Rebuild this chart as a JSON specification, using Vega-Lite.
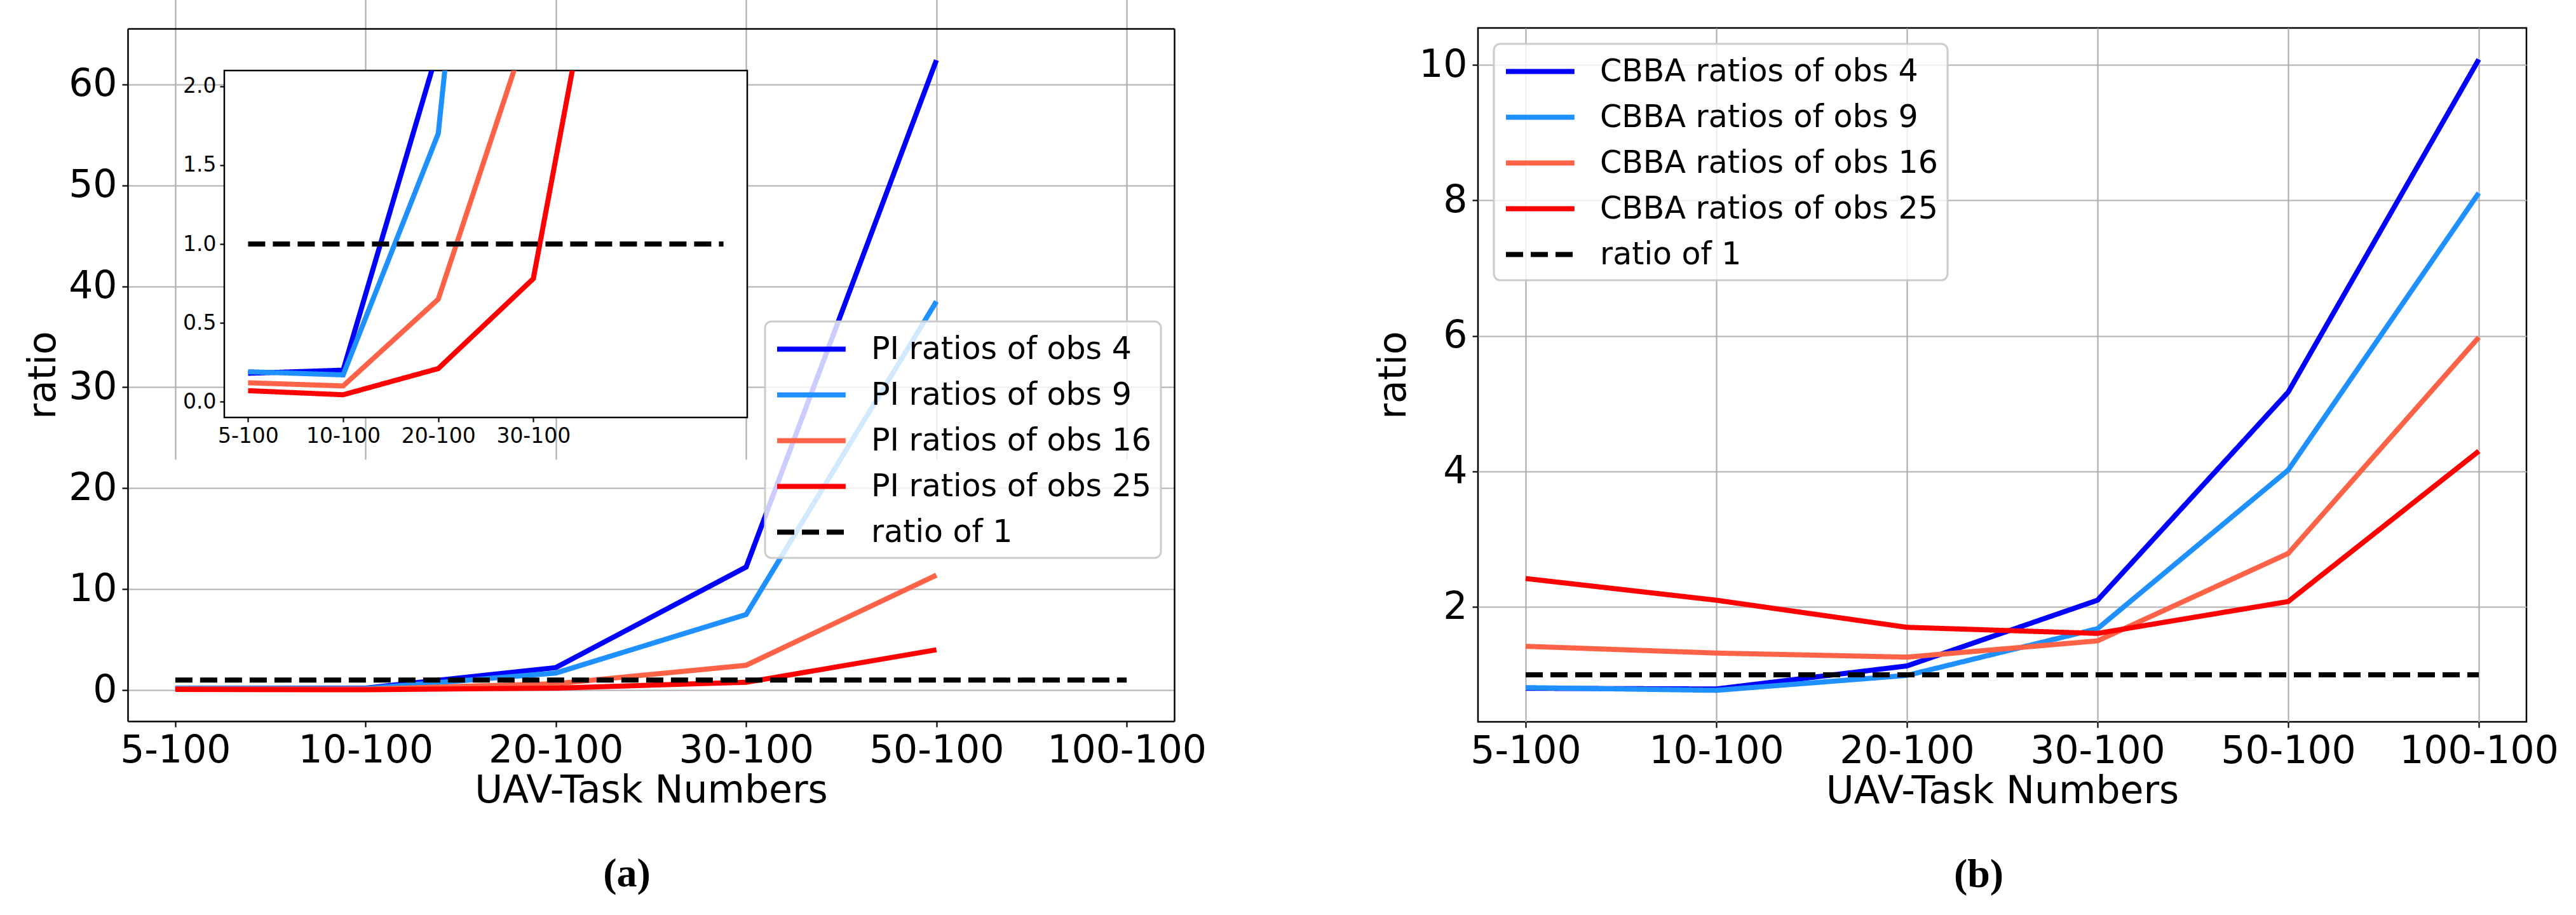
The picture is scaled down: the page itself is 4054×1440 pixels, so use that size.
{
  "$schema": "https://vega.github.io/schema/vega-lite/v6.json",
  "background": "white",
  "padding": {"left": 38, "top": 42, "right": 20, "bottom": 10},
  "config": {
    "font": "DejaVu Sans",
    "view": {"stroke": "black", "strokeWidth": 2.5},
    "axis": {
      "grid": true, "gridColor": "#b0b0b0", "gridWidth": 2.2, "domain": false,
      "domainColor": "black", "domainWidth": 2.5,
      "ticks": true, "tickColor": "black", "tickWidth": 2.2, "tickSize": 9,
      "labelFont": "DejaVu Sans", "labelFontSize": 60, "labelColor": "black", "labelPadding": 8, "labelLimit": 1000,
      "titleFont": "DejaVu Sans", "titleFontSize": 60, "titleFontWeight": "normal", "titleColor": "black", "titlePadding": 8,
      "labelOverlap": false
    },
    "legend": {"labelFont": "DejaVu Sans", "labelColor": "black"},
    "title": {"font": "Liberation Serif", "fontSize": 64, "fontWeight": "bold", "color": "black"}
  },
  "datasets": {
    "pi": [
      {"task": "5-100", "series": "PI ratios of obs 4", "ratio": 0.18},
      {"task": "10-100", "series": "PI ratios of obs 4", "ratio": 0.2},
      {"task": "20-100", "series": "PI ratios of obs 4", "ratio": 2.24},
      {"task": "30-100", "series": "PI ratios of obs 4", "ratio": 12.2},
      {"task": "50-100", "series": "PI ratios of obs 4", "ratio": 62.4},
      {"task": "5-100", "series": "PI ratios of obs 9", "ratio": 0.19},
      {"task": "10-100", "series": "PI ratios of obs 9", "ratio": 0.17},
      {"task": "20-100", "series": "PI ratios of obs 9", "ratio": 1.7},
      {"task": "30-100", "series": "PI ratios of obs 9", "ratio": 7.5},
      {"task": "50-100", "series": "PI ratios of obs 9", "ratio": 38.5},
      {"task": "5-100", "series": "PI ratios of obs 16", "ratio": 0.12},
      {"task": "10-100", "series": "PI ratios of obs 16", "ratio": 0.1},
      {"task": "20-100", "series": "PI ratios of obs 16", "ratio": 0.65},
      {"task": "30-100", "series": "PI ratios of obs 16", "ratio": 2.47},
      {"task": "50-100", "series": "PI ratios of obs 16", "ratio": 11.4},
      {"task": "5-100", "series": "PI ratios of obs 25", "ratio": 0.07},
      {"task": "10-100", "series": "PI ratios of obs 25", "ratio": 0.044},
      {"task": "20-100", "series": "PI ratios of obs 25", "ratio": 0.21},
      {"task": "30-100", "series": "PI ratios of obs 25", "ratio": 0.78},
      {"task": "50-100", "series": "PI ratios of obs 25", "ratio": 4.0},
      {"task": "5-100", "series": "ratio of 1", "ratio": 1},
      {"task": "10-100", "series": "ratio of 1", "ratio": 1},
      {"task": "20-100", "series": "ratio of 1", "ratio": 1},
      {"task": "30-100", "series": "ratio of 1", "ratio": 1},
      {"task": "50-100", "series": "ratio of 1", "ratio": 1},
      {"task": "100-100", "series": "ratio of 1", "ratio": 1}
    ],
    "cbba": [
      {"task": "5-100", "series": "CBBA ratios of obs 4", "ratio": 0.8},
      {"task": "10-100", "series": "CBBA ratios of obs 4", "ratio": 0.79},
      {"task": "20-100", "series": "CBBA ratios of obs 4", "ratio": 1.13},
      {"task": "30-100", "series": "CBBA ratios of obs 4", "ratio": 2.1},
      {"task": "50-100", "series": "CBBA ratios of obs 4", "ratio": 5.17},
      {"task": "100-100", "series": "CBBA ratios of obs 4", "ratio": 10.08},
      {"task": "5-100", "series": "CBBA ratios of obs 9", "ratio": 0.81},
      {"task": "10-100", "series": "CBBA ratios of obs 9", "ratio": 0.77},
      {"task": "20-100", "series": "CBBA ratios of obs 9", "ratio": 0.99},
      {"task": "30-100", "series": "CBBA ratios of obs 9", "ratio": 1.68},
      {"task": "50-100", "series": "CBBA ratios of obs 9", "ratio": 4.02},
      {"task": "100-100", "series": "CBBA ratios of obs 9", "ratio": 8.11},
      {"task": "5-100", "series": "CBBA ratios of obs 16", "ratio": 1.42},
      {"task": "10-100", "series": "CBBA ratios of obs 16", "ratio": 1.32},
      {"task": "20-100", "series": "CBBA ratios of obs 16", "ratio": 1.26},
      {"task": "30-100", "series": "CBBA ratios of obs 16", "ratio": 1.5},
      {"task": "50-100", "series": "CBBA ratios of obs 16", "ratio": 2.79},
      {"task": "100-100", "series": "CBBA ratios of obs 16", "ratio": 5.98},
      {"task": "5-100", "series": "CBBA ratios of obs 25", "ratio": 2.42},
      {"task": "10-100", "series": "CBBA ratios of obs 25", "ratio": 2.1},
      {"task": "20-100", "series": "CBBA ratios of obs 25", "ratio": 1.7},
      {"task": "30-100", "series": "CBBA ratios of obs 25", "ratio": 1.61},
      {"task": "50-100", "series": "CBBA ratios of obs 25", "ratio": 2.08},
      {"task": "100-100", "series": "CBBA ratios of obs 25", "ratio": 4.3},
      {"task": "5-100", "series": "ratio of 1", "ratio": 1},
      {"task": "10-100", "series": "ratio of 1", "ratio": 1},
      {"task": "20-100", "series": "ratio of 1", "ratio": 1},
      {"task": "30-100", "series": "ratio of 1", "ratio": 1},
      {"task": "50-100", "series": "ratio of 1", "ratio": 1},
      {"task": "100-100", "series": "ratio of 1", "ratio": 1}
    ]
  },
  "resolve": {"scale": {"color": "independent"}, "legend": {"color": "independent"}},
  "spacing": 162,
  "hconcat": [
    {
      "spacing": 0,
      "resolve": {"scale": {"color": "independent"}, "legend": {"color": "independent"}},
      "vconcat": [
        {"width": 1, "height": 1, "view": {"stroke": null}, "data": {"values": []}, "mark": "point"},
        {
          "width": 823, "height": 546,
          "view": {"stroke": null},
          "data": {"name": "pi"},
          "title": {"text": "(a)", "orient": "bottom", "anchor": "middle", "dx": 222, "offset": 70},
          "resolve": {"scale": {"x": "independent", "y": "independent"}, "axis": {"x": "independent", "y": "independent"}},
          "layer": [
            {
              "transform": [{"filter": "datum.series !== 'ratio of 1'"}],
              "mark": {"type": "line", "strokeWidth": 8},
              "encoding": {
                "x": {"field": "task", "type": "ordinal",
                      "scale": {"type": "point", "padding": 0.25, "domain": ["5-100", "10-100", "20-100", "30-100", "50-100", "100-100"], "range": [-152, 1495]},
                      "axis": {"orient": "bottom", "offset": 478, "title": "UAV-Task Numbers", "labelAngle": 0, "titlePadding": 4, "domain": true}},
                "y": {"field": "ratio", "type": "quantitative",
                      "scale": {"domain": [-3.07, 65.52], "nice": false, "zero": false, "range": [1024, -66]},
                      "axis": {"orient": "left", "offset": 152, "title": "ratio", "values": [0, 10, 20, 30, 40, 50, 60], "domain": true}},
                "color": {"field": "series", "type": "nominal",
                          "scale": {"domain": ["PI ratios of obs 4", "PI ratios of obs 9", "PI ratios of obs 16", "PI ratios of obs 25", "ratio of 1"],
                                    "range": ["#0000ff", "#1e90ff", "#ff6347", "#ff0000", "#000000"]},
                          "legend": {"title": null, "orient": "none", "legendX": 851, "legendY": 395, "direction": "vertical",
                                     "symbolType": "M-1,0H3.4", "symbolSize": 2401, "symbolStrokeWidth": 8,
                                     "labelFontSize": 49, "labelOffset": 95, "labelLimit": 2000, "rowPadding": 18, "padding": 15,
                                     "strokeColor": "#cccccc", "fillColor": "rgba(255,255,255,0.8)", "cornerRadius": 10,
                                     "encode": {"symbols": {"update": {"strokeDash": {"signal": "datum.value === 'ratio of 1' ? [27,12] : [1,0]"}}},
                                                "legend": {"update": {"strokeWidth": {"value": 3}}}}}},
                "order": {"value": null}
              }
            },
            {
              "transform": [{"filter": "datum.series === 'ratio of 1'"}],
              "mark": {"type": "line", "strokeWidth": 8, "strokeDash": [27, 12]},
              "encoding": {
                "x": {"field": "task", "type": "ordinal",
                      "scale": {"type": "point", "padding": 0.25, "domain": ["5-100", "10-100", "20-100", "30-100", "50-100", "100-100"], "range": [-152, 1495]},
                      "axis": {"orient": "top", "offset": 66, "title": null, "labels": false, "ticks": false, "grid": false, "domain": true}},
                "y": {"field": "ratio", "type": "quantitative",
                      "scale": {"domain": [-3.07, 65.52], "nice": false, "zero": false, "range": [1024, -66]},
                      "axis": {"orient": "right", "offset": 672, "title": null, "labels": false, "ticks": false, "grid": false, "domain": true}},
                "color": {"field": "series", "type": "nominal"},
                "order": {"value": null}
              }
            },
            {
              "data": {"values": [{}]},
              "mark": {"type": "rect", "fill": "white", "stroke": "black", "strokeWidth": 2.5}
            },
            {
              "mark": {"type": "line", "strokeWidth": 8, "clip": true},
              "encoding": {
                "x": {"field": "task", "type": "ordinal",
                      "scale": {"type": "point", "padding": 0.25, "domain": ["5-100", "10-100", "20-100", "30-100", "50-100", "100-100"]},
                      "axis": {"orient": "bottom", "title": null, "labelAngle": 0, "values": ["5-100", "10-100", "20-100", "30-100"], "labelFontSize": 33, "tickSize": 7, "labelPadding": 6, "zindex": 1}},
                "y": {"field": "ratio", "type": "quantitative",
                      "scale": {"domain": [-0.1, 2.1], "nice": false, "zero": false},
                      "axis": {"orient": "left", "title": null, "values": [0, 0.5, 1, 1.5, 2], "format": ".1f", "labelFontSize": 33, "tickSize": 7, "labelPadding": 6, "zindex": 1}},
                "color": {"field": "series", "type": "nominal"},
                "strokeDash": {"condition": {"test": "datum.series === 'ratio of 1'", "value": [27, 12]}, "value": [1, 0]},
                "order": {"value": null}
              }
            }
          ]
        }
      ]
    },
    {
      "width": 1650, "height": 1092,
      "data": {"name": "cbba"},
      "title": {"text": "(b)", "orient": "bottom", "anchor": "middle", "dx": -37, "offset": 70},
      "mark": {"type": "line", "strokeWidth": 8, "clip": true},
      "encoding": {
        "x": {"field": "task", "type": "ordinal",
              "scale": {"type": "point", "padding": 0.25, "domain": ["5-100", "10-100", "20-100", "30-100", "50-100", "100-100"]},
              "axis": {"title": "UAV-Task Numbers", "labelAngle": 0, "titlePadding": 4}},
        "y": {"field": "ratio", "type": "quantitative",
              "scale": {"domain": [0.305, 10.545], "nice": false, "zero": false},
              "axis": {"title": "ratio", "values": [2, 4, 6, 8, 10]}},
        "color": {"field": "series", "type": "nominal",
                  "scale": {"domain": ["CBBA ratios of obs 4", "CBBA ratios of obs 9", "CBBA ratios of obs 16", "CBBA ratios of obs 25", "ratio of 1"],
                            "range": ["#0000ff", "#1e90ff", "#ff6347", "#ff0000", "#000000"]},
                  "legend": {"title": null, "orient": "none", "legendX": 25, "legendY": 25, "direction": "vertical",
                             "symbolType": "M-1,0H3.4", "symbolSize": 2401, "symbolStrokeWidth": 8,
                             "labelFontSize": 49, "labelOffset": 95, "labelLimit": 2000, "rowPadding": 18, "padding": 15,
                             "strokeColor": "#cccccc", "fillColor": "rgba(255,255,255,0.8)", "cornerRadius": 10,
                             "encode": {"symbols": {"update": {"strokeDash": {"signal": "datum.value === 'ratio of 1' ? [27,12] : [1,0]"}}},
                                        "legend": {"update": {"strokeWidth": {"value": 3}}}}}},
        "strokeDash": {"condition": {"test": "datum.series === 'ratio of 1'", "value": [27, 12]}, "value": [1, 0]},
        "order": {"value": null}
      }
    }
  ]
}
